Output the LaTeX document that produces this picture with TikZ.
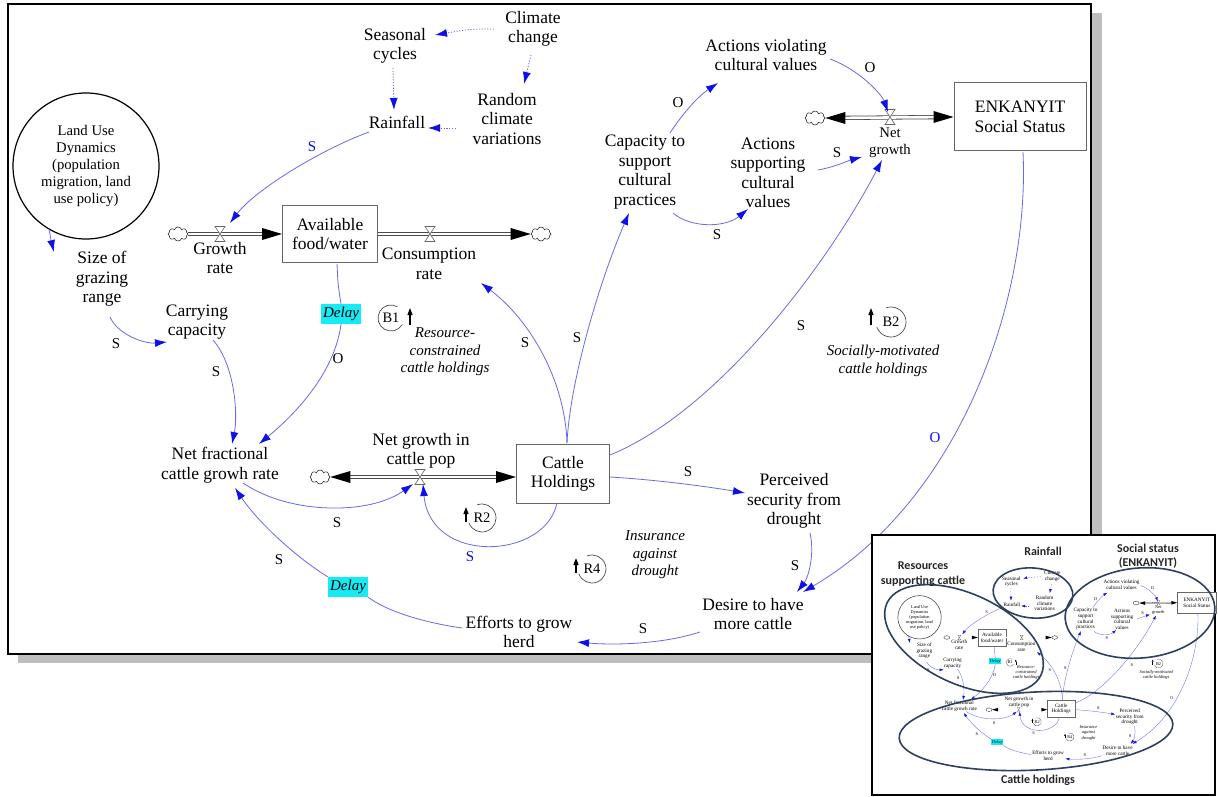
\documentclass[tikz,border=0pt]{standalone}
\usepackage{fontspec}
\setmainfont{Liberation Serif}
\newfontfamily\calib{Carlito}
\usetikzlibrary{arrows.meta,shapes.symbols,calc}

\definecolor{lkc}{RGB}{105,105,235}
\definecolor{lkh}{RGB}{15,15,235}
\definecolor{ellc}{RGB}{45,65,95}
\definecolor{dcyan}{RGB}{20,235,245}
\definecolor{shadowc}{RGB}{190,190,190}

\tikzset{
 aux/.style={align=center, inner sep=1pt, font=\fontsize{17.5}{19.5}\selectfont},
 sml/.style={align=center, inner sep=1pt, font=\fontsize{14.7}{17}\selectfont},
 itx/.style={align=center, inner sep=1pt, font=\fontsize{15}{17.5}\selectfont\itshape},
 lbl/.style={inner sep=1pt, font=\fontsize{15}{17}\selectfont},
 lblb/.style={lbl, text=lkh},
 stockline/.style={draw=black!60, line width=1pt},
 stock/.style={stockline, fill=white, align=center, font=\fontsize{17.5}{19.5}\selectfont, inner sep=0pt},
 delay/.style={fill=dcyan, font=\fontsize{15}{17}\selectfont\itshape, inner sep=1pt, minimum width=40pt, minimum height=20pt},
 lkline/.style={draw=lkc, line width=0.8pt},
 lkhead/.style={-{Latex[length=12pt,width=8pt,color=lkh]}},
 lk/.style={lkline, lkhead},
 lkn/.style={lkline},
 lkd/.style={lkline, lkhead, dash pattern=on 1.2pt off 1.6pt},
 pipe/.style={draw=black!70, double=white, double distance=2.6pt, line width=0.8pt},
 pend/.style={shorten >=12pt},
 pstart/.style={shorten <=12pt},
 cldline/.style={draw=black!80, line width=0.6pt},
 cld/.style={cloud, cloud puffs=8, cldline, minimum width=20pt, minimum height=14pt, inner sep=0pt},
 vlv/.style={draw=black!60, fill=white, line width=0.6pt},
 lucline/.style={draw=black, line width=1.2pt},
 loopc/.style={draw=black!70, line width=0.7pt},
 loopa/.style={line width=1.2pt, -{Triangle[length=7pt,width=5pt]}},
 looplab/.style={inner sep=1pt, font=\fontsize{14.5}{17}\selectfont},
 hd/.style={fill=black},
 ell/.style={draw=ellc, line width=1.6pt},
 ilab/.style={align=center, inner sep=1pt, text=black!85, font=\calib\bfseries\fontsize{12}{14.5}\selectfont},
 valve/.pic={\draw[vlv] (-5,-7.5) -- (5,-7.5) -- (-5,7.5) -- (5,7.5) -- cycle;},
}

\newcommand\drawdiagram{%
 % ---- nodes
 \node[circle, lucline, minimum size=146pt, sml, inner sep=0pt] (landuse) at (86,166) {Land Use\\Dynamics\\(population\\migration, land\\use policy)};
 \node[aux] (season) at (395,46) {Seasonal\\cycles};
 \node[aux] (climate) at (533,29) {Climate\\change};
 \node[aux] (rain) at (397,122) {Rainfall};
 \node[aux] (random) at (507,119) {Random\\climate\\variations};
 \node[stock, minimum width=95pt, minimum height=57pt] (food) at (330,234) {Available\\food/water};
 \coordinate (vg) at (220,234);
 \node[aux] (growth) at (220,258) {Growth\\rate};
 \coordinate (vc) at (430,234);
 \node[aux] (cons) at (429,264) {Consumption\\rate};
 \node[cld] (cl1) at (178,234) {};
 \node[cld] (cl2) at (541,234) {};
 \node[aux] (size) at (102,279) {Size of\\grazing\\range};
 \node[aux] (carry) at (197,322) {Carrying\\capacity};
 \node[delay] (delay1) at (341,314) {Delay};
 \node[looplab] (b1) at (391,318) {B1};
 \node[itx] (resnote) at (445,352) {Resource-\\constrained\\cattle holdings};
 \node[aux] (netfrac) at (220,465) {Net fractional\\cattle growh rate};
 \node[aux] (ngtext) at (421,451) {Net growth in\\cattle pop};
 \coordinate (vn) at (420,477);
 \node[cld] (cl3) at (320,477) {};
 \node[stock, minimum width=93pt, minimum height=59pt] (cattle) at (563,474) {Cattle\\Holdings};
 \node[looplab] (r2) at (482,518) {R2};
 \node[looplab] (r4) at (592,569) {R4};
 \node[itx] (insnote) at (655,555) {Insurance\\against\\drought};
 \node[aux] (perc) at (794,501) {Perceived\\security from\\drought};
 \node[aux] (desire) at (753,614) {Desire to have\\more cattle};
 \node[aux] (efforts) at (519,632) {Efforts to grow\\herd};
 \node[delay] (delay2) at (348,587) {Delay};
 \node[aux] (capac) at (645,172) {Capacity to\\support\\cultural\\practices};
 \node[aux] (viol) at (766,55) {Actions violating\\cultural values};
 \node[aux] (supp) at (768,173) {Actions\\supporting\\cultural\\values};
 \coordinate (vs) at (890,117);
 \node[sml] (nglab) at (890,143) {Net\\growth};
 \node[cld] (cl4) at (815,118) {};
 \node[stock, minimum width=132pt, minimum height=68pt] (enk) at (1020,117) {ENKANYIT\\Social Status};
 \node[looplab] (b2) at (891,322) {B2};
 \node[itx] (socnote) at (883,361) {Socially-motivated\\cattle holdings};
 % ---- flows
 \draw[pipe, pend] (cl1.east) -- (food.west);
 \fill[hd] (food.west) -- ++(-20,-6) -- ++(0,12) -- cycle;
 \draw[pipe, pend] (food.east) -- (cl2.west);
 \fill[hd] (cl2.west) -- ++(-20,-6) -- ++(0,12) -- cycle;
 \draw[pipe, pend, pstart] (cl3.east) -- (vn -| cattle.west);
 \fill[hd] (cl3.east) -- ++(20,-6) -- ++(0,12) -- cycle;
 \fill[hd] (vn -| cattle.west) -- ++(-20,-6) -- ++(0,12) -- cycle;
 \draw[pipe, pend, pstart] (cl4.east) -- (vs -| enk.west);
 \fill[hd] (cl4.east) -- ++(20,-6) -- ++(0,12) -- cycle;
 \fill[hd] (vs -| enk.west) -- ++(-20,-6) -- ++(0,12) -- cycle;
 \pic at (vg) {valve};
 \pic at (vc) {valve};
 \pic at (vn) {valve};
 \pic at (vs) {valve};
 % ---- links
 \draw[lk] ($(landuse)+(-37,63)$) .. controls (51,240) .. ($(size)+(-48,-27)$);
 \draw[lk] ($(size)+(8,38)$) .. controls (118,335) and (145,344) .. ($(carry)+(-30,20)$);
 \node[lbl] (l1) at (116,344) {S};
 \draw[lk] ($(carry)+(16,18)$) .. controls (235,365) and (238,415) .. ($(netfrac)+(12,-21)$);
 \node[lbl] (l2) at (216,372) {S};
 \draw[lkn] ($(food)+(7,30)$) .. controls (338,285) .. (delay1.north);
 \draw[lk] (delay1.south) .. controls (335,370) and (300,410) .. ($(netfrac)+(39,-21)$);
 \node[lbl] (l3) at (338,359) {O};
 \draw[lk] ($(rain)+(-28,10)$) .. controls (320,150) and (255,190) .. ($(vg)+(10,-11)$);
 \node[lblb] (l4) at (312,147) {S};
 \draw[lkd] ($(season)+(-2,22)$) -- ($(rain)+(-3,-12)$);
 \draw[lkd] ($(climate)+(-39,0)$) .. controls (470,29) .. ($(season)+(40,-11)$);
 \draw[lkd] ($(climate)+(-2,26)$) -- ($(random)+(17,-35)$);
 \draw[lkd] ($(random)+(-51,9)$) -- ($(rain)+(31,6)$);
 \draw[lk] ($(cattle)+(4,-31)$) .. controls (565,380) and (530,320) .. ($(vc)+(51,49)$);
 \node[lbl] (l5) at (525,343) {S};
 \draw[lk] ($(cattle)+(4,-31)$) .. controls (570,380) and (600,280) .. ($(capac)+(-16,41)$);
 \node[lbl] (l6) at (577,338) {S};
 \draw[lk] ($(cattle)+(47,-19)$) .. controls (720,410) and (830,260) .. ($(vs)+(-8,43)$);
 \node[lbl] (l7) at (801,326) {S};
 \draw[lk] ($(cattle)+(47,3)$) .. controls (660,480) and (710,487) .. ($(perc)+(-49,-8)$);
 \node[lbl] (l8) at (688,472) {S};
 \draw[lk] ($(perc)+(16,32)$) .. controls (815,555) and (808,578) .. ($(desire)+(44,-22)$);
 \node[lbl] (l9) at (795,566) {S};
 \draw[lk] ($(enk)+(3,35)$) .. controls (1030,300) and (960,500) .. ($(desire)+(50,-22)$);
 \node[lblb] (l10) at (935,438) {O};
 \draw[lk] ($(desire)+(-53,18)$) .. controls (660,645) and (610,645) .. ($(efforts)+(58,10)$);
 \node[lbl] (l11) at (643,629) {S};
 \draw[lkn] ($(efforts)+(-57,-4)$) .. controls (420,622) and (385,610) .. (delay2.south east);
 \draw[lk] (delay2.north west) .. controls (300,560) and (260,525) .. ($(netfrac)+(15,23)$);
 \node[lbl] (l12) at (279,560) {S};
 \draw[lk] ($(netfrac)+(23,18)$) .. controls (290,515) and (370,515) .. ($(vn)+(-7,7)$);
 \node[lbl] (l13) at (337,523) {S};
 \draw[lk] ($(cattle)+(-6,29)$) .. controls (545,560) and (430,565) .. ($(vn)+(3,7)$);
 \node[lblb] (l14) at (470,557) {S};
 \draw[lk] ($(capac)+(25,-39)$) .. controls (685,110) and (700,95) .. ($(viol)+(-48,28)$);
 \node[lbl] (l15) at (678,103) {O};
 \draw[lk] ($(capac)+(28,41)$) .. controls (690,228) and (725,228) .. ($(supp)+(-20,36)$);
 \node[lbl] (l16) at (717,235) {S};
 \draw[lk] ($(viol)+(64,4)$) .. controls (860,70) and (882,95) .. ($(vs)+(-2,-5)$);
 \node[lbl] (l17) at (870,68) {O};
 \draw[lk] ($(supp)+(50,-3)$) .. controls (835,167) and (850,160) .. ($(vs)+(-28,40)$);
 \node[lbl] (l18) at (837,153) {S};
 % ---- loop symbols
 \draw[loopc] (b1.center) ++(60:13pt) arc[start angle=60, end angle=330, radius=13pt];
 \draw[loopa] ($(b1)+(19,7)$) -- ($(b1)+(19,-10)$);
 \draw[loopc] (r2.center) ++(110:14pt) arc[start angle=110, end angle=-160, radius=14pt];
 \draw[loopa] ($(r2)+(-16,4)$) -- ($(r2)+(-16,-11)$);
 \draw[loopc] (r4.center) ++(110:14pt) arc[start angle=110, end angle=-160, radius=14pt];
 \draw[loopa] ($(r4)+(-16,4)$) -- ($(r4)+(-16,-11)$);
 \draw[loopc] (b2.center) ++(110:15pt) arc[start angle=110, end angle=-160, radius=15pt];
 \draw[loopa] ($(b2)+(-20,3)$) -- ($(b2)+(-20,-14)$);
}

\begin{document}
\begin{tikzpicture}[x=1pt,y=-1pt]
\useasboundingbox (0,0) rectangle (1218,797);
\fill[white] (0,0) rectangle (1218,797);
% main frame with shadow
\fill[shadowc] (18,13) rectangle (1102,663);
\draw[fill=white, line width=1.6pt] (8,4) rectangle (1091,654);
\drawdiagram
% inset
\draw[fill=white, line width=1.2pt] (872,535) rectangle (1215,795);
\begin{scope}[shift={(894,568)}, scale=0.297, transform shape, name prefix=m-,
 lkline/.style={draw=lkc, line width=0.35pt},
 lkhead/.style={-{Latex[length=4pt,width=2.8pt,color=lkh]}},
 pipe/.style={draw=black!70, double=white, double distance=0.8pt, line width=0.3pt},
 pend/.style={shorten >=3.5pt},
 pstart/.style={shorten <=3.5pt},
 cldline/.style={draw=black!80, line width=0.3pt},
 vlv/.style={draw=black!60, fill=white, line width=0.25pt},
 stockline/.style={draw=black!60, line width=0.4pt},
 lucline/.style={draw=black!80, line width=0.5pt},
 loopc/.style={draw=black!70, line width=0.3pt},
 loopa/.style={line width=0.5pt, -{Triangle[length=2.2pt,width=1.6pt]}}]
\drawdiagram
\end{scope}
\draw[ell, rotate around={-25:(964,639)}] (964,639) ellipse (85pt and 45pt);
\draw[ell, rotate around={-5:(1033,593)}] (1033,593) ellipse (40pt and 25pt);
\draw[ell, rotate around={5:(1140,613)}] (1140,613) ellipse (75pt and 45pt);
\draw[ell, rotate around={3:(1036,731)}] (1036,731) ellipse (137pt and 39pt);
\node[ilab] (t1) at (923,574) {Resources\\supporting cattle};
\node[ilab] (t2) at (1043,551) {Rainfall};
\node[ilab] (t3) at (1148,556) {Social status\\(ENKANYIT)};
\node[ilab] (t4) at (1038,780) {Cattle holdings};
\end{tikzpicture}
\end{document}
